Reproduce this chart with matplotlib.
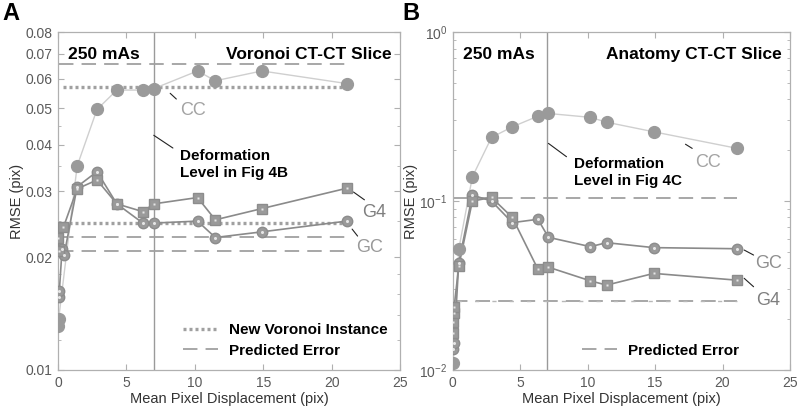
import numpy as np
import matplotlib
matplotlib.use('Agg')
import matplotlib.pyplot as plt
from matplotlib.ticker import FixedLocator, NullFormatter

plt.rcParams['font.family'] = ['Liberation Sans', 'DejaVu Sans']
plt.rcParams['mathtext.fontset'] = 'custom'
plt.rcParams['mathtext.rm'] = 'Liberation Sans'
plt.rcParams['mathtext.default'] = 'regular'

# ---- panel A: Voronoi CT-CT slice ----
a_x_cc = [0.0, 0.05, 1.4, 2.85, 4.3, 6.2, 7.0, 10.2, 11.5, 14.9, 21.1]
a_cc = [0.0131, 0.0137, 0.0351, 0.0497, 0.056, 0.056, 0.0565, 0.063, 0.0593, 0.063, 0.0583]
a_x_gc = [0.05, 0.1, 0.3, 0.45, 1.4, 2.85, 4.3, 6.2, 7.0, 10.2, 11.5, 14.9, 21.1]
a_gc = [0.0157, 0.0163, 0.0211, 0.0203, 0.0309, 0.0339, 0.0278, 0.0247, 0.0247, 0.025, 0.0226, 0.0234, 0.025]
a_x_g4 = [0.0, 0.1, 0.4, 1.4, 2.85, 4.3, 6.2, 7.0, 10.2, 11.5, 14.9, 21.1]
a_g4 = [0.0225, 0.0208, 0.0241, 0.0305, 0.0322, 0.0278, 0.0265, 0.0278, 0.0289, 0.0252, 0.027, 0.0306]
a_pred = [0.0656, 0.0227, 0.0208]
a_new_voronoi = [0.0569, 0.0247]
a_yticks = [0.01, 0.02, 0.03, 0.04, 0.05, 0.06, 0.07, 0.08]
a_yticklabels = ['0.01', '0.02', '0.03', '0.04', '0.05', '0.06', '0.07', '0.08']

# ---- panel B: anatomy CT-CT slice ----
b_x_cc = [0.0, 0.44, 1.45, 2.87, 4.41, 6.31, 7.09, 10.2, 11.4, 14.9, 21.1]
b_cc = [0.011, 0.0518, 0.139, 0.238, 0.275, 0.318, 0.330, 0.313, 0.293, 0.257, 0.205]
b_x_gc = [0.05, 0.1, 0.44, 1.45, 2.87, 4.41, 6.31, 7.09, 10.2, 11.4, 14.9, 21.1]
b_gc = [0.0133, 0.0145, 0.043, 0.1085, 0.100, 0.0745, 0.078, 0.061, 0.0537, 0.0567, 0.053, 0.0522]
b_x_g4 = [0.05, 0.05, 0.1, 0.1, 0.44, 1.45, 2.87, 4.41, 6.31, 7.09, 10.2, 11.4, 14.9, 21.1]
b_g4 = [0.0166, 0.0193, 0.0216, 0.0237, 0.041, 0.100, 0.105, 0.080, 0.0395, 0.0406, 0.0337, 0.0318, 0.0373, 0.034]
b_pred = [0.104, 0.0257]
b_yticks = [0.01, 0.1, 1.0]
b_yticklabels = ['$10^{-2}$', '$10^{-1}$', '$10^{0}$']

x_ticks = [0, 5, 10, 15, 20, 25]
deform_level = 7.0
line_span = (0.1, 21.1)

MK = '#9a9a9a'
CC_LINE = '#cfcfcf'
G_LINE = '#8a8a8a'
REF = '#a0a0a0'
SPINE = '#b0b0b0'
TICK_TXT = '#5a5a5a'


def series(ax, x, y, kind):
    if kind == 'cc':
        ax.plot(x, y, '-', color=CC_LINE, lw=1.0, zorder=3)
        ax.plot(x, y, 'o', ms=8.5, mfc=MK, mec=MK, zorder=4)
    elif kind == 'gc':
        ax.plot(x, y, '-', color=G_LINE, lw=1.2, zorder=3)
        ax.plot(x, y, 'o', ms=7.5, mfc=MK, mec='#8c8c8c', zorder=5)
        ax.plot(x, y, 'o', ms=2.2, mfc='#e6e6e6', mec='none', zorder=6)
    else:
        ax.plot(x, y, '-', color=G_LINE, lw=1.2, zorder=3)
        ax.plot(x, y, 's', ms=6.5, mfc=MK, mec='#8c8c8c', zorder=5)
        ax.plot(x, y, 's', ms=1.8, mfc='#e6e6e6', mec='none', zorder=6)


def style(ax, ylim, yticks, ylabels):
    ax.set_yscale('log')
    ax.set_xlim(0, 25)
    ax.set_ylim(*ylim)
    ax.set_xticks(x_ticks)
    ax.yaxis.set_major_locator(FixedLocator(yticks))
    ax.set_yticklabels(ylabels)
    ax.yaxis.set_minor_formatter(NullFormatter())
    for s in ax.spines.values():
        s.set_color(SPINE)
        s.set_linewidth(0.9)
    ax.tick_params(which='both', direction='in', top=True, right=True,
                   colors=SPINE, labelcolor=TICK_TXT, labelsize=10, pad=4)
    ax.tick_params(which='major', length=4)
    ax.tick_params(which='minor', length=2.5)
    ax.set_xlabel('Mean Pixel Displacement (pix)', fontsize=10.5, color='#333333', labelpad=2)
    ax.set_ylabel('RMSE (pix)', fontsize=10.5, color='#333333', labelpad=1)
    ax.axvline(deform_level, color='#9a9a9a', lw=1.0, zorder=2)


def leader(ax, p0, p1):
    ax.annotate('', xy=p1, xytext=p0,
                arrowprops=dict(arrowstyle='-', color='#222222', lw=0.8, shrinkA=0, shrinkB=0))


fig = plt.figure(figsize=(8, 4.12), dpi=100)
axA = fig.add_axes([0.0725, 0.102, 0.4275, 0.82])
axB = fig.add_axes([0.566, 0.102, 0.4215, 0.82])

# panel A
style(axA, (0.01, 0.08), a_yticks, a_yticklabels)
axA.yaxis.set_minor_locator(FixedLocator([0.012, 0.014, 0.016, 0.018, 0.025, 0.035, 0.045]))
dash = (0, (8, 4.5))
for i, v in enumerate(a_pred):
    axA.hlines(v, *line_span, colors=REF, lw=1.3, linestyles=[dash], zorder=2,
               label='Predicted Error' if i == 0 else None)
for i, v in enumerate(a_new_voronoi):
    axA.hlines(v, 0.35, line_span[1], colors=REF, lw=2.4, linestyles=[(0, (0.9, 0.9))], zorder=2,
               label='New Voronoi Instance' if i == 0 else None)
series(axA, a_x_cc, a_cc, 'cc')
series(axA, a_x_gc, a_gc, 'gc')
series(axA, a_x_g4, a_g4, 'g4')

h, l = axA.get_legend_handles_labels()
axA.legend(h[::-1], l[::-1], loc='lower right', bbox_to_anchor=(1.0, 0.0), frameon=False,
           prop={'weight': 'bold', 'size': 11}, handlelength=2.3, handletextpad=0.7,
           labelspacing=0.45, borderaxespad=0.4)

axA.text(0.03, 0.955, '250 mAs', transform=axA.transAxes, fontsize=12.5, fontweight='bold',
         ha='left', va='top')
axA.text(0.975, 0.955, 'Voronoi CT-CT Slice', transform=axA.transAxes, fontsize=12.5,
         fontweight='bold', ha='right', va='top')
axA.text(8.9, 0.0355, 'Deformation\nLevel in Fig 4B', fontsize=11, fontweight='bold',
         ha='left', va='center', linespacing=1.25)
leader(axA, (7.0, 0.0424), (8.4, 0.0392))
leader(axA, (8.2, 0.0549), (8.65, 0.053))
axA.text(9.9, 0.0495, 'CC', fontsize=13, color='#a3a3a3', ha='center', va='center')
leader(axA, (21.6, 0.0299), (22.4, 0.0285))
axA.text(23.1, 0.0263, 'G4', fontsize=13, color='#7f7f7f', ha='center', va='center')
leader(axA, (21.5, 0.0238), (21.9, 0.0228))
axA.text(22.8, 0.0212, 'GC', fontsize=13, color='#999999', ha='center', va='center')

# panel B
style(axB, (0.01, 1.0), b_yticks, b_yticklabels)
axB.yaxis.set_minor_locator(FixedLocator([0.02, 0.03, 0.04, 0.05, 0.06, 0.07, 0.08, 0.09,
                                          0.2, 0.3, 0.4, 0.5, 0.6, 0.7, 0.8, 0.9]))
axB.hlines(b_pred[0], 0.0, line_span[1], colors=REF, lw=1.3, linestyles=[dash], zorder=2,
           label='Predicted Error')
axB.hlines(b_pred[1], 0.0, line_span[1], colors=REF, lw=1.3, linestyles=[dash], zorder=2)
axB.hlines(b_pred[1], 0.0, line_span[1], colors='#b8b8b8', lw=1.0,
           linestyles=[(9.5, (3, 9.5))], zorder=2)
series(axB, b_x_cc, b_cc, 'cc')
series(axB, b_x_gc, b_gc, 'gc')
series(axB, b_x_g4, b_g4, 'g4')

axB.legend(loc='lower right', bbox_to_anchor=(0.885, 0.0), frameon=False,
           prop={'weight': 'bold', 'size': 11}, handlelength=2.3, handletextpad=0.7,
           borderaxespad=0.4)

axB.text(0.03, 0.955, '250 mAs', transform=axB.transAxes, fontsize=12.5, fontweight='bold',
         ha='left', va='top')
axB.text(0.975, 0.955, 'Anatomy CT-CT Slice', transform=axB.transAxes, fontsize=12.5,
         fontweight='bold', ha='right', va='top')
axB.text(8.97, 0.1475, 'Deformation\nLevel in Fig 4C', fontsize=11, fontweight='bold',
         ha='left', va='center', linespacing=1.25)
leader(axB, (7.09, 0.2195), (8.43, 0.183))
leader(axB, (17.25, 0.217), (17.75, 0.205))
axB.text(18.9, 0.168, 'CC', fontsize=13, color='#a3a3a3', ha='center', va='center')
leader(axB, (21.6, 0.0513), (22.3, 0.0479))
axB.text(23.4, 0.0428, 'GC', fontsize=13, color='#8f8f8f', ha='center', va='center')
leader(axB, (21.6, 0.0349), (22.3, 0.0311))
axB.text(23.4, 0.0259, 'G4', fontsize=13, color='#7f7f7f', ha='center', va='center')

fig.text(0.003, 0.995, 'A', fontsize=17, fontweight='bold', ha='left', va='top')
fig.text(0.503, 0.995, 'B', fontsize=17, fontweight='bold', ha='left', va='top')

fig.savefig('out.png', dpi=100)
plt.close(fig)
